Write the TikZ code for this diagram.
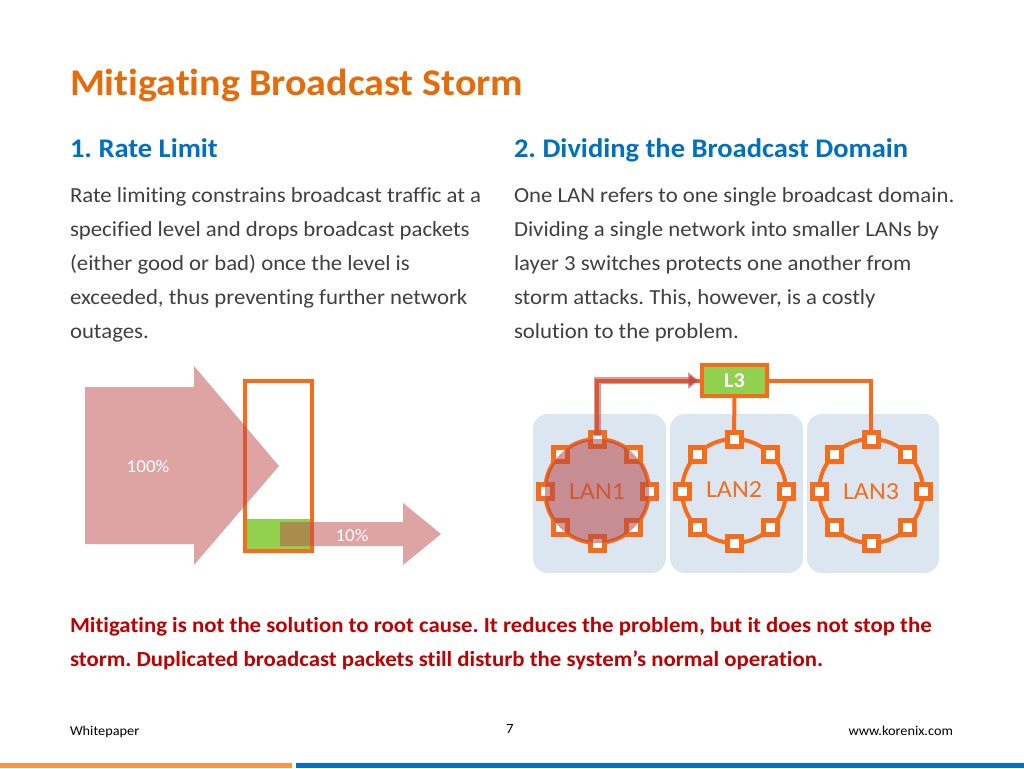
\documentclass[tikz,border=0pt]{standalone}
\usepackage{fontspec}
\setmainfont[Ligatures=NoCommon,FakeStretch=1.06]{Carlito}
\frenchspacing
\usetikzlibrary{arrows.meta,calc}
\definecolor{titleorange}{RGB}{228,108,10}
\definecolor{headblue}{RGB}{0,112,192}
\definecolor{bodygray}{RGB}{64,64,64}
\definecolor{warnred}{RGB}{192,0,0}
\definecolor{netorange}{RGB}{244,108,28}
\definecolor{l3green}{RGB}{146,208,80}
\definecolor{lanblue}{RGB}{220,230,241}
\definecolor{arrowred}{RGB}{191,75,75}
\definecolor{footorange}{RGB}{247,150,70}
\definecolor{footblue}{RGB}{0,112,192}
\begin{document}
\begin{tikzpicture}[x=1pt,y=-1pt,
  txt/.style={inner sep=0pt,outer sep=0pt,anchor=base west},
  bodytext/.style={txt,text=bodygray,font=\frenchspacing\fontsize{21.5}{34}\selectfont},
  warntext/.style={txt,text=warnred,font=\frenchspacing\fontsize{21.5}{34}\selectfont\bfseries},
  headtext/.style={txt,text=headblue,font=\frenchspacing\fontsize{26.9}{30}\selectfont\bfseries},
  foottext/.style={txt,text=black,font=\fontsize{13.5}{16}\selectfont},
  sq/.style={draw=netorange,fill=white,line width=5pt,minimum size=14pt,inner sep=0pt,outer sep=0pt},
  ring/.style={draw=netorange,line width=4pt},
  conn/.style={draw=netorange,line width=4pt},
  lanbox/.style={fill=lanblue,rounded corners=15pt},
  lantext/.style={text=netorange,font=\fontsize{24.5}{26}\selectfont,inner sep=0pt},
  bigarrow/.style={fill=arrowred,fill opacity=0.5},
  pct/.style={text=white,font=\fontsize{18}{20}\selectfont,inner sep=0pt}
]
\useasboundingbox (0,0) rectangle (1024,768);
\fill[white] (0,0) rectangle (1024,768);

% title and headings
\node[txt,text=titleorange,font=\fontsize{37.7}{40}\selectfont\bfseries] (title) at (70,95) {Mitigating Broadcast Storm};
\node[headtext] (h1) at (70,157.5) {1. Rate Limit};
\node[headtext] (h2) at (514,157.5) {2. Dividing the Broadcast Domain};

% left body text
\node[bodytext] (b1a) at (70,202) {Rate limiting constrains broadcast traffic at a};
\node[bodytext] (b1b) at (70,236) {specified level and drops broadcast packets};
\node[bodytext] (b1c) at (70,270) {(either good or bad) once the level is};
\node[bodytext] (b1d) at (70,304) {exceeded, thus preventing further network};
\node[bodytext] (b1e) at (70,338) {outages.};
% right body text
\node[bodytext] (b2a) at (514,202) {One LAN refers to one single broadcast domain.};
\node[bodytext] (b2b) at (514,236) {Dividing a single network into smaller LANs by};
\node[bodytext] (b2c) at (514,270) {layer 3 switches protects one another from};
\node[bodytext] (b2d) at (514,304) {storm attacks. This, however, is a costly};
\node[bodytext] (b2e) at (514,338) {solution to the problem.};

% left diagram
\fill[l3green] (247,519) rectangle (310,550);
\draw[draw=netorange,line width=4pt] (245,381) rectangle (312,551);
\path[bigarrow] (85,387) -- (194,387) -- (194,366) -- (279,466) -- (194,565) -- (194,544) -- (85,544) -- cycle;
\path[bigarrow] (280,522) -- (403,522) -- (403,503) -- (441,534) -- (403,565) -- (403,546) -- (280,546) -- cycle;
\node[pct] (p100) at (148,466) {100\%};
\node[pct] (p10) at (352,535) {10\%};

% right diagram: LAN boxes
\path[lanbox] (533,414) rectangle (666,573);
\path[lanbox] (670,414) rectangle (803,573);
\path[lanbox] (807,414) rectangle (939,573);

\coordinate (c1) at (597,491);
\coordinate (c2) at (734,491);
\coordinate (c3) at (871,491);

\node[lantext] (lan1) at ($(c1)+(0,1)$) {LAN1};
\node[lantext] (lan2) at ($(c2)+(0,-1)$) {LAN2};
\node[lantext] (lan3) at ($(c3)+(0,1)$) {LAN3};

\foreach \c in {1,2,3}{
  \draw[ring] (c\c) circle[radius=52];
  \foreach \k in {0,...,7}{
    \node[sq] (s\c-\k) at ($(c\c)+({\k*45}:52)$) {};
  }
}
% red overlay on LAN1
\fill[fill=arrowred!95!black,fill opacity=0.55] (c1) circle[radius=52];

% L3 switch
\node[draw=netorange,fill=l3green,line width=4pt,minimum width=65pt,minimum height=31pt,inner sep=0pt,text=white,font=\fontsize{21}{24}\selectfont\bfseries] (l3) at (734.5,380.5) {L3};

% connectors
\draw[conn] (l3.east) -| (s3-6.north);
\draw[conn] (l3.south) -- (s2-6.north);
\draw[conn] (s1-6.north) |- (l3.west);
\draw[draw=arrowred,draw opacity=0.55,line width=7pt,-{Triangle[length=11pt,width=16pt]}] ($(s1-6.center)+(0,-3)$) |- ([xshift=-1pt]l3.west);

% bottom statement
\node[warntext] (w1) at (70,632) {Mitigating is not the solution to root cause. It reduces the problem, but it does not stop the};
\node[warntext] (w2) at (70,666.5) {storm. Duplicated broadcast packets still disturb the system’s normal operation.};

% footer
\node[foottext] (fl) at (70,735) {Whitepaper};
\node[foottext,font=\fontsize{14}{16}\selectfont,anchor=base] (fn) at (510,733) {7};
\node[foottext,anchor=base east] (fr) at (953,735) {www.korenix.com};
\fill[footorange] (0,763) rectangle (292,768);
\fill[footblue] (296,763) rectangle (1024,768);
\end{tikzpicture}
\end{document}
